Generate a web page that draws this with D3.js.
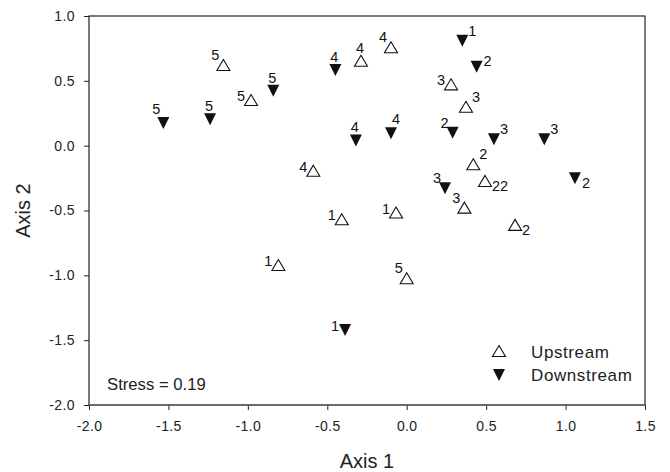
<!DOCTYPE html>
<html><head><meta charset="utf-8">
<script src="https://cdn.jsdelivr.net/npm/d3@7"></script>
<style>
html,body{margin:0;padding:0;background:#fff;}
text{font-family:"Liberation Sans",Arial,Helvetica,sans-serif;}
</style></head>
<body>
<svg id="chart" width="670" height="472"></svg>
<script>
// ---- data ----
const upX =   [-1.154, -0.98, -0.288, -0.099, -0.588, 0.279, 0.373, 0.363, 0.419, 0.493, 0.682, -0.409, -0.067, -0.808, 0.0];
const upY =   [0.622, 0.352, 0.655, 0.759, -0.193, 0.473, 0.30, -0.478, -0.143, -0.272, -0.611, -0.568, -0.516, -0.92, -1.023];
const upLab = ["5", "5", "4", "4", "4", "3", "3", "3", "2", "22", "2", "1", "1", "1", "5"];
const upPos = ["nw", "w", "n", "nw", "w", "w", "ne", "nw", "ne", "se", "se", "w", "w", "w", "nw"];

const dnX =   [-1.532, -1.238, -0.84, -0.449, -0.32, -0.099, 0.289, 0.549, 0.866, 0.35, 0.44, 1.059, 0.241, -0.388];
const dnY =   [0.175, 0.203, 0.424, 0.584, 0.04, 0.096, 0.10, 0.049, 0.049, 0.81, 0.609, -0.251, -0.328, -1.421];
const dnLab = ["5", "5", "5", "4", "4", "4", "2", "3", "3", "1", "2", "2", "3", "1"];
const dnPos = ["nnw", "n", "n", "n", "n", "nne", "nw", "ne", "ne", "ne", "e", "se", "nw", "w"];

const xTicks = [-2.0, -1.5, -1.0, -0.5, 0.0, 0.5, 1.0, 1.5];
const yTicks = [-2.0, -1.5, -1.0, -0.5, 0.0, 0.5, 1.0];
const seriesNames = ["Upstream", "Downstream"];
const stressText = "Stress = 0.19";
const xTitle = "Axis 1", yTitle = "Axis 2";

// ---- layout ----
const W = 670, H = 472;
const m = {left: 89, right: 25, top: 16, bottom: 67};
const svg = d3.select("#chart");
const x = d3.scaleLinear().domain([-2, 1.5]).range([m.left, W - m.right]);
const y = d3.scaleLinear().domain([-2, 1]).range([H - m.bottom, m.top]);

const axisCol = "#222";
const fmt = d => d.toFixed(1);

const gx = svg.append("g").attr("transform", `translate(0,${H - m.bottom})`)
  .call(d3.axisBottom(x).tickValues(xTicks).tickFormat(fmt).tickSize(5).tickPadding(11).tickSizeOuter(0));
const gy = svg.append("g").attr("transform", `translate(${m.left},0)`)
  .call(d3.axisLeft(y).tickValues(yTicks).tickFormat(fmt).tickSize(5).tickPadding(9).tickSizeOuter(0));
[gx, gy].forEach(g => {
  g.select(".domain").remove();
  g.selectAll(".tick line").attr("stroke", axisCol).attr("stroke-width", 1);
  g.selectAll(".tick text").attr("fill", "#222").style("font-size", "14px").style("letter-spacing", "0.4px");
});

// frame
svg.append("rect")
  .attr("x", x(-2)).attr("y", y(1))
  .attr("width", x(1.5) - x(-2)).attr("height", y(-2) - y(1))
  .attr("fill", "none").attr("stroke", axisCol).attr("stroke-width", 1.2);
svg.append("line")
  .attr("x1", x(-2)).attr("x2", x(1.5)).attr("y1", y(-2)).attr("y2", y(-2))
  .attr("stroke", "#666").attr("stroke-width", 1.6);

// markers
const upPath = (cx, cy) => `M${cx},${cy - 5.5}L${cx + 6.5},${cy + 5.5}L${cx - 6.5},${cy + 5.5}Z`;
const dnPath = (cx, cy) => `M${cx - 6},${cy - 6}L${cx + 6},${cy - 6}L${cx},${cy + 6}Z`;

const off = {
  n:   {dx: -1, dy: -13, a: "middle"},
  nne: {dx: 5,  dy: -14, a: "middle"},
  nnw: {dx: -7, dy: -14, a: "middle"},
  nw:  {dx: -4, dy: -10, a: "end"},
  w:   {dx: -6, dy: -4,  a: "end"},
  ne:  {dx: 6,  dy: -10, a: "start"},
  e:   {dx: 7,  dy: -6,  a: "start"},
  se:  {dx: 7,  dy: 5,   a: "start"}
};

const up = upX.map((v, i) => ({x: v, y: upY[i], lab: upLab[i], pos: upPos[i]}));
const dn = dnX.map((v, i) => ({x: v, y: dnY[i], lab: dnLab[i], pos: dnPos[i]}));

svg.append("g").selectAll("path").data(up).join("path")
  .attr("d", d => upPath(x(d.x), y(d.y)))
  .attr("fill", "#fff").attr("stroke", "#111").attr("stroke-width", 1.1);
svg.append("g").selectAll("path").data(dn).join("path")
  .attr("d", d => dnPath(x(d.x), y(d.y)))
  .attr("fill", "#111");

const labG = svg.append("g").style("font-size", "14.5px").attr("fill", "#111");
labG.selectAll("text").data(up.concat(dn)).join("text")
  .attr("x", d => x(d.x) + off[d.pos].dx)
  .attr("y", d => y(d.y) + off[d.pos].dy)
  .attr("text-anchor", d => off[d.pos].a)
  .attr("dominant-baseline", "central")
  .text(d => d.lab);

// legend
const lg = svg.append("g");
lg.append("path").attr("d", upPath(499, 351)).attr("fill", "#fff").attr("stroke", "#111").attr("stroke-width", 1.1);
lg.append("path").attr("d", dnPath(499, 375)).attr("fill", "#111");
lg.selectAll("text").data(seriesNames).join("text")
  .attr("x", 531).attr("y", (d, i) => 358 + i * 22.5)
  .attr("fill", "#222").style("font-size", "17px").style("letter-spacing", "0.6px").text(d => d);

// stress
svg.append("text").attr("x", 107).attr("y", 390).attr("fill", "#222")
  .style("font-size", "16.7px").text(stressText);

// axis titles
svg.append("text").attr("x", (x(-2) + x(1.5)) / 2).attr("y", 468)
  .attr("text-anchor", "middle").attr("fill", "#222").style("font-size", "20px").text(xTitle);
svg.append("text").attr("transform", `translate(30,${(y(1) + y(-2)) / 2}) rotate(-90)`)
  .attr("text-anchor", "middle").attr("fill", "#222").style("font-size", "20px").text(yTitle);
</script>
</body></html>
